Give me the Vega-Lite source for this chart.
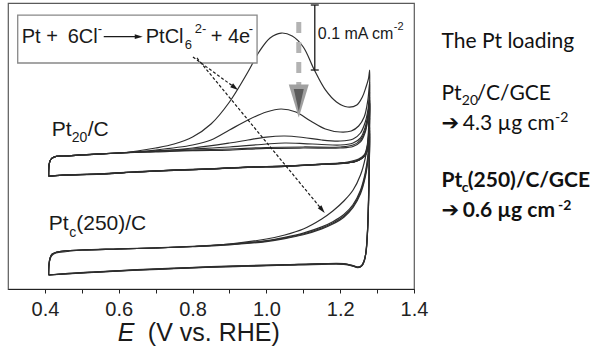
{
  "$schema": "https://vega.github.io/schema/vega-lite/v6.json",
  "width": 406,
  "height": 286,
  "autosize": {"type": "none"},
  "padding": {"left": 8, "top": 3, "right": 176, "bottom": 63},
  "background": "white",
  "config": {"view": {"stroke": "#5a5a5a", "strokeWidth": 1.2}},
  "datasets": {
    "cv": [
      {"s":"A1","i":0,"E":0.41,"j":0.1738},{"s":"A1","i":1,"E":0.411,"j":0.1892},{"s":"A1","i":2,"E":0.415,"j":0.1985},{"s":"A1","i":3,"E":0.425,"j":0.2031},{"s":"A1","i":4,"E":0.45,"j":0.2046},{"s":"A1","i":5,"E":0.5,"j":0.2062},{"s":"A1","i":6,"E":0.6,"j":0.2092},{"s":"A1","i":7,"E":0.65,"j":0.2123},{"s":"A1","i":8,"E":0.7,"j":0.2169},{"s":"A1","i":9,"E":0.75,"j":0.2231},{"s":"A1","i":10,"E":0.8,"j":0.2338},{"s":"A1","i":11,"E":0.85,"j":0.2538},{"s":"A1","i":12,"E":0.9,"j":0.2877},{"s":"A1","i":13,"E":0.95,"j":0.3338},{"s":"A1","i":14,"E":0.98,"j":0.3646},{"s":"A1","i":15,"E":1.01,"j":0.3862},{"s":"A1","i":16,"E":1.04,"j":0.3938},{"s":"A1","i":17,"E":1.07,"j":0.3892},{"s":"A1","i":18,"E":1.1,"j":0.3723},{"s":"A1","i":19,"E":1.13,"j":0.3369},{"s":"A1","i":20,"E":1.16,"j":0.3062},{"s":"A1","i":21,"E":1.19,"j":0.2877},{"s":"A1","i":22,"E":1.22,"j":0.28},{"s":"A1","i":23,"E":1.245,"j":0.2831},{"s":"A1","i":24,"E":1.26,"j":0.2954},{"s":"A1","i":25,"E":1.27,"j":0.3108},{"s":"A1","i":26,"E":1.277,"j":0.3246},{"s":"A1","i":27,"E":1.28,"j":0.3369},{"s":"A1","i":28,"E":1.279,"j":0.2908},{"s":"A1","i":29,"E":1.277,"j":0.2477},{"s":"A1","i":30,"E":1.273,"j":0.22},{"s":"A1","i":31,"E":1.265,"j":0.2062},{"s":"A1","i":32,"E":1.25,"j":0.2},{"s":"A1","i":33,"E":1.22,"j":0.1954},{"s":"A1","i":34,"E":1.15,"j":0.1923},{"s":"A1","i":35,"E":1.05,"j":0.1892},{"s":"A1","i":36,"E":0.95,"j":0.1877},{"s":"A1","i":37,"E":0.85,"j":0.1846},{"s":"A1","i":38,"E":0.75,"j":0.1831},{"s":"A1","i":39,"E":0.65,"j":0.18},{"s":"A1","i":40,"E":0.55,"j":0.1769},{"s":"A1","i":41,"E":0.45,"j":0.1754},{"s":"A1","i":42,"E":0.415,"j":0.1738},{"s":"A1","i":43,"E":0.41,"j":0.1738},

      {"s":"A2","i":0,"E":0.41,"j":0.1738},{"s":"A2","i":1,"E":0.411,"j":0.1892},{"s":"A2","i":2,"E":0.415,"j":0.1985},{"s":"A2","i":3,"E":0.425,"j":0.2031},{"s":"A2","i":4,"E":0.45,"j":0.2046},{"s":"A2","i":5,"E":0.5,"j":0.2062},{"s":"A2","i":6,"E":0.6,"j":0.2092},{"s":"A2","i":7,"E":0.7,"j":0.2138},{"s":"A2","i":8,"E":0.8,"j":0.2215},{"s":"A2","i":9,"E":0.85,"j":0.2292},{"s":"A2","i":10,"E":0.9,"j":0.2446},{"s":"A2","i":11,"E":0.95,"j":0.26},{"s":"A2","i":12,"E":1.0,"j":0.2723},{"s":"A2","i":13,"E":1.04,"j":0.2769},{"s":"A2","i":14,"E":1.08,"j":0.2723},{"s":"A2","i":15,"E":1.12,"j":0.2585},{"s":"A2","i":16,"E":1.16,"j":0.2462},{"s":"A2","i":17,"E":1.2,"j":0.2415},{"s":"A2","i":18,"E":1.23,"j":0.2431},{"s":"A2","i":19,"E":1.25,"j":0.2508},{"s":"A2","i":20,"E":1.265,"j":0.2646},{"s":"A2","i":21,"E":1.275,"j":0.2908},{"s":"A2","i":22,"E":1.28,"j":0.3185},{"s":"A2","i":23,"E":1.279,"j":0.2754},{"s":"A2","i":24,"E":1.277,"j":0.24},{"s":"A2","i":25,"E":1.273,"j":0.2169},{"s":"A2","i":26,"E":1.265,"j":0.2046},{"s":"A2","i":27,"E":1.25,"j":0.1985},{"s":"A2","i":28,"E":1.22,"j":0.1938},{"s":"A2","i":29,"E":1.15,"j":0.1915},{"s":"A2","i":30,"E":1.05,"j":0.1885},{"s":"A2","i":31,"E":0.95,"j":0.187},{"s":"A2","i":32,"E":0.85,"j":0.1846},{"s":"A2","i":33,"E":0.75,"j":0.1825},{"s":"A2","i":34,"E":0.65,"j":0.18},{"s":"A2","i":35,"E":0.55,"j":0.1769},{"s":"A2","i":36,"E":0.45,"j":0.175},{"s":"A2","i":37,"E":0.415,"j":0.1738},{"s":"A2","i":38,"E":0.41,"j":0.1738},

      {"s":"A3","i":0,"E":0.41,"j":0.1738},{"s":"A3","i":1,"E":0.411,"j":0.1892},{"s":"A3","i":2,"E":0.415,"j":0.1985},{"s":"A3","i":3,"E":0.425,"j":0.2031},{"s":"A3","i":4,"E":0.45,"j":0.2046},{"s":"A3","i":5,"E":0.5,"j":0.2062},{"s":"A3","i":6,"E":0.6,"j":0.2092},{"s":"A3","i":7,"E":0.7,"j":0.2123},{"s":"A3","i":8,"E":0.8,"j":0.2169},{"s":"A3","i":9,"E":0.9,"j":0.2246},{"s":"A3","i":10,"E":0.95,"j":0.2292},{"s":"A3","i":11,"E":1.0,"j":0.2338},{"s":"A3","i":12,"E":1.05,"j":0.2354},{"s":"A3","i":13,"E":1.1,"j":0.2331},{"s":"A3","i":14,"E":1.15,"j":0.2292},{"s":"A3","i":15,"E":1.2,"j":0.2277},{"s":"A3","i":16,"E":1.235,"j":0.2308},{"s":"A3","i":17,"E":1.255,"j":0.24},{"s":"A3","i":18,"E":1.268,"j":0.2569},{"s":"A3","i":19,"E":1.276,"j":0.2785},{"s":"A3","i":20,"E":1.28,"j":0.3031},{"s":"A3","i":21,"E":1.279,"j":0.2631},{"s":"A3","i":22,"E":1.277,"j":0.2323},{"s":"A3","i":23,"E":1.272,"j":0.2123},{"s":"A3","i":24,"E":1.262,"j":0.2031},{"s":"A3","i":25,"E":1.245,"j":0.1969},{"s":"A3","i":26,"E":1.22,"j":0.1938},{"s":"A3","i":27,"E":1.15,"j":0.192},{"s":"A3","i":28,"E":1.05,"j":0.1892},{"s":"A3","i":29,"E":0.95,"j":0.1877},{"s":"A3","i":30,"E":0.85,"j":0.185},{"s":"A3","i":31,"E":0.75,"j":0.1831},{"s":"A3","i":32,"E":0.65,"j":0.1805},{"s":"A3","i":33,"E":0.55,"j":0.1772},{"s":"A3","i":34,"E":0.45,"j":0.1754},{"s":"A3","i":35,"E":0.415,"j":0.1738},{"s":"A3","i":36,"E":0.41,"j":0.1738},

      {"s":"A4","i":0,"E":0.41,"j":0.1738},{"s":"A4","i":1,"E":0.411,"j":0.1892},{"s":"A4","i":2,"E":0.415,"j":0.1985},{"s":"A4","i":3,"E":0.425,"j":0.2031},{"s":"A4","i":4,"E":0.45,"j":0.2046},{"s":"A4","i":5,"E":0.5,"j":0.2062},{"s":"A4","i":6,"E":0.6,"j":0.2092},{"s":"A4","i":7,"E":0.7,"j":0.2123},{"s":"A4","i":8,"E":0.8,"j":0.2154},{"s":"A4","i":9,"E":0.9,"j":0.2185},{"s":"A4","i":10,"E":1.0,"j":0.2231},{"s":"A4","i":11,"E":1.05,"j":0.2246},{"s":"A4","i":12,"E":1.1,"j":0.2238},{"s":"A4","i":13,"E":1.15,"j":0.2223},{"s":"A4","i":14,"E":1.2,"j":0.2215},{"s":"A4","i":15,"E":1.235,"j":0.2246},{"s":"A4","i":16,"E":1.255,"j":0.2323},{"s":"A4","i":17,"E":1.268,"j":0.2492},{"s":"A4","i":18,"E":1.276,"j":0.2723},{"s":"A4","i":19,"E":1.28,"j":0.2954},{"s":"A4","i":20,"E":1.279,"j":0.255},{"s":"A4","i":21,"E":1.277,"j":0.226},{"s":"A4","i":22,"E":1.271,"j":0.21},{"s":"A4","i":23,"E":1.26,"j":0.202},{"s":"A4","i":24,"E":1.24,"j":0.1962},{"s":"A4","i":25,"E":1.2,"j":0.1935},{"s":"A4","i":26,"E":1.15,"j":0.1918},{"s":"A4","i":27,"E":1.05,"j":0.189},{"s":"A4","i":28,"E":0.95,"j":0.1874},{"s":"A4","i":29,"E":0.85,"j":0.1848},{"s":"A4","i":30,"E":0.75,"j":0.1828},{"s":"A4","i":31,"E":0.65,"j":0.1802},{"s":"A4","i":32,"E":0.55,"j":0.177},{"s":"A4","i":33,"E":0.45,"j":0.1752},{"s":"A4","i":34,"E":0.415,"j":0.1738},{"s":"A4","i":35,"E":0.41,"j":0.1738},

      {"s":"A5","i":0,"E":0.41,"j":0.1738},{"s":"A5","i":1,"E":0.411,"j":0.1892},{"s":"A5","i":2,"E":0.415,"j":0.1985},{"s":"A5","i":3,"E":0.425,"j":0.2031},{"s":"A5","i":4,"E":0.45,"j":0.2046},{"s":"A5","i":5,"E":0.5,"j":0.2062},{"s":"A5","i":6,"E":0.6,"j":0.2092},{"s":"A5","i":7,"E":0.7,"j":0.2115},{"s":"A5","i":8,"E":0.8,"j":0.2138},{"s":"A5","i":9,"E":0.9,"j":0.2154},{"s":"A5","i":10,"E":1.0,"j":0.2177},{"s":"A5","i":11,"E":1.1,"j":0.2185},{"s":"A5","i":12,"E":1.2,"j":0.2185},{"s":"A5","i":13,"E":1.235,"j":0.2215},{"s":"A5","i":14,"E":1.255,"j":0.2292},{"s":"A5","i":15,"E":1.268,"j":0.2446},{"s":"A5","i":16,"E":1.276,"j":0.2677},{"s":"A5","i":17,"E":1.28,"j":0.2908},{"s":"A5","i":18,"E":1.279,"j":0.25},{"s":"A5","i":19,"E":1.276,"j":0.222},{"s":"A5","i":20,"E":1.27,"j":0.208},{"s":"A5","i":21,"E":1.258,"j":0.201},{"s":"A5","i":22,"E":1.24,"j":0.196},{"s":"A5","i":23,"E":1.2,"j":0.1935},{"s":"A5","i":24,"E":1.15,"j":0.1918},{"s":"A5","i":25,"E":1.05,"j":0.189},{"s":"A5","i":26,"E":0.95,"j":0.1874},{"s":"A5","i":27,"E":0.85,"j":0.1848},{"s":"A5","i":28,"E":0.75,"j":0.1828},{"s":"A5","i":29,"E":0.65,"j":0.1802},{"s":"A5","i":30,"E":0.55,"j":0.177},{"s":"A5","i":31,"E":0.45,"j":0.1752},{"s":"A5","i":32,"E":0.415,"j":0.1738},{"s":"A5","i":33,"E":0.41,"j":0.1738},

      {"s":"A6","i":0,"E":0.41,"j":0.1738},{"s":"A6","i":1,"E":0.411,"j":0.1892},{"s":"A6","i":2,"E":0.415,"j":0.1985},{"s":"A6","i":3,"E":0.425,"j":0.2031},{"s":"A6","i":4,"E":0.45,"j":0.2046},{"s":"A6","i":5,"E":0.5,"j":0.2062},{"s":"A6","i":6,"E":0.6,"j":0.2092},{"s":"A6","i":7,"E":0.7,"j":0.211},{"s":"A6","i":8,"E":0.8,"j":0.213},{"s":"A6","i":9,"E":0.9,"j":0.2138},{"s":"A6","i":10,"E":1.0,"j":0.2162},{"s":"A6","i":11,"E":1.1,"j":0.2169},{"s":"A6","i":12,"E":1.2,"j":0.2169},{"s":"A6","i":13,"E":1.235,"j":0.2192},{"s":"A6","i":14,"E":1.255,"j":0.2262},{"s":"A6","i":15,"E":1.268,"j":0.2415},{"s":"A6","i":16,"E":1.276,"j":0.2646},{"s":"A6","i":17,"E":1.28,"j":0.2862},{"s":"A6","i":18,"E":1.279,"j":0.245},{"s":"A6","i":19,"E":1.276,"j":0.22},{"s":"A6","i":20,"E":1.27,"j":0.207},{"s":"A6","i":21,"E":1.258,"j":0.2005},{"s":"A6","i":22,"E":1.24,"j":0.1958},{"s":"A6","i":23,"E":1.2,"j":0.1932},{"s":"A6","i":24,"E":1.15,"j":0.1916},{"s":"A6","i":25,"E":1.05,"j":0.1888},{"s":"A6","i":26,"E":0.95,"j":0.1872},{"s":"A6","i":27,"E":0.85,"j":0.1846},{"s":"A6","i":28,"E":0.75,"j":0.1826},{"s":"A6","i":29,"E":0.65,"j":0.18},{"s":"A6","i":30,"E":0.55,"j":0.1768},{"s":"A6","i":31,"E":0.45,"j":0.1751},{"s":"A6","i":32,"E":0.415,"j":0.1738},{"s":"A6","i":33,"E":0.41,"j":0.1738},

      {"s":"B1","i":0,"E":0.41,"j":0.0215},{"s":"B1","i":1,"E":0.412,"j":0.0415},{"s":"B1","i":2,"E":0.418,"j":0.0508},{"s":"B1","i":3,"E":0.43,"j":0.0554},{"s":"B1","i":4,"E":0.46,"j":0.0577},{"s":"B1","i":5,"E":0.5,"j":0.06},{"s":"B1","i":6,"E":0.6,"j":0.0615},{"s":"B1","i":7,"E":0.7,"j":0.0631},{"s":"B1","i":8,"E":0.8,"j":0.0654},{"s":"B1","i":9,"E":0.9,"j":0.0692},{"s":"B1","i":10,"E":1.0,"j":0.0769},{"s":"B1","i":11,"E":1.05,"j":0.0831},{"s":"B1","i":12,"E":1.1,"j":0.0923},{"s":"B1","i":13,"E":1.15,"j":0.1077},{"s":"B1","i":14,"E":1.18,"j":0.12},{"s":"B1","i":15,"E":1.21,"j":0.1354},{"s":"B1","i":16,"E":1.235,"j":0.1523},{"s":"B1","i":17,"E":1.255,"j":0.1754},{"s":"B1","i":18,"E":1.268,"j":0.2015},{"s":"B1","i":19,"E":1.276,"j":0.2292},{"s":"B1","i":20,"E":1.28,"j":0.2631},{"s":"B1","i":21,"E":1.279,"j":0.21},{"s":"B1","i":22,"E":1.277,"j":0.145},{"s":"B1","i":23,"E":1.274,"j":0.09},{"s":"B1","i":24,"E":1.27,"j":0.058},{"s":"B1","i":25,"E":1.266,"j":0.044},{"s":"B1","i":26,"E":1.26,"j":0.0365},{"s":"B1","i":27,"E":1.25,"j":0.034},{"s":"B1","i":28,"E":1.235,"j":0.036},{"s":"B1","i":29,"E":1.21,"j":0.039},{"s":"B1","i":30,"E":1.15,"j":0.039},{"s":"B1","i":31,"E":1.05,"j":0.0375},{"s":"B1","i":32,"E":0.95,"j":0.036},{"s":"B1","i":33,"E":0.85,"j":0.0345},{"s":"B1","i":34,"E":0.75,"j":0.032},{"s":"B1","i":35,"E":0.65,"j":0.0297},{"s":"B1","i":36,"E":0.55,"j":0.0267},{"s":"B1","i":37,"E":0.45,"j":0.0235},{"s":"B1","i":38,"E":0.41,"j":0.0215},

      {"s":"B2","i":0,"E":0.41,"j":0.0215},{"s":"B2","i":1,"E":0.411,"j":0.0369},{"s":"B2","i":2,"E":0.414,"j":0.0477},{"s":"B2","i":3,"E":0.42,"j":0.0538},{"s":"B2","i":4,"E":0.44,"j":0.0577},{"s":"B2","i":5,"E":0.5,"j":0.06},{"s":"B2","i":6,"E":0.6,"j":0.0615},{"s":"B2","i":7,"E":0.7,"j":0.0631},{"s":"B2","i":8,"E":0.8,"j":0.0654},{"s":"B2","i":9,"E":0.9,"j":0.0685},{"s":"B2","i":10,"E":1.0,"j":0.0738},{"s":"B2","i":11,"E":1.05,"j":0.0785},{"s":"B2","i":12,"E":1.1,"j":0.0846},{"s":"B2","i":13,"E":1.15,"j":0.0938},{"s":"B2","i":14,"E":1.18,"j":0.1015},{"s":"B2","i":15,"E":1.21,"j":0.1123},{"s":"B2","i":16,"E":1.235,"j":0.1277},{"s":"B2","i":17,"E":1.255,"j":0.1492},{"s":"B2","i":18,"E":1.268,"j":0.1754},{"s":"B2","i":19,"E":1.276,"j":0.2062},{"s":"B2","i":20,"E":1.28,"j":0.2446},{"s":"B2","i":21,"E":1.279,"j":0.1985},{"s":"B2","i":22,"E":1.277,"j":0.1369},{"s":"B2","i":23,"E":1.274,"j":0.0877},{"s":"B2","i":24,"E":1.27,"j":0.0569},{"s":"B2","i":25,"E":1.265,"j":0.0431},{"s":"B2","i":26,"E":1.258,"j":0.0354},{"s":"B2","i":27,"E":1.248,"j":0.0331},{"s":"B2","i":28,"E":1.235,"j":0.0354},{"s":"B2","i":29,"E":1.21,"j":0.0385},{"s":"B2","i":30,"E":1.15,"j":0.0385},{"s":"B2","i":31,"E":1.05,"j":0.0369},{"s":"B2","i":32,"E":0.95,"j":0.0354},{"s":"B2","i":33,"E":0.85,"j":0.0338},{"s":"B2","i":34,"E":0.75,"j":0.0315},{"s":"B2","i":35,"E":0.65,"j":0.0292},{"s":"B2","i":36,"E":0.55,"j":0.0262},{"s":"B2","i":37,"E":0.45,"j":0.0231},{"s":"B2","i":38,"E":0.41,"j":0.0215},

      {"s":"B3","i":0,"E":0.41,"j":0.0215},{"s":"B3","i":1,"E":0.411,"j":0.0369},{"s":"B3","i":2,"E":0.414,"j":0.0477},{"s":"B3","i":3,"E":0.42,"j":0.0538},{"s":"B3","i":4,"E":0.44,"j":0.0577},{"s":"B3","i":5,"E":0.5,"j":0.06},{"s":"B3","i":6,"E":0.6,"j":0.0615},{"s":"B3","i":7,"E":0.7,"j":0.0631},{"s":"B3","i":8,"E":0.8,"j":0.0652},{"s":"B3","i":9,"E":0.9,"j":0.068},{"s":"B3","i":10,"E":1.0,"j":0.073},{"s":"B3","i":11,"E":1.05,"j":0.0775},{"s":"B3","i":12,"E":1.1,"j":0.0835},{"s":"B3","i":13,"E":1.15,"j":0.0925},{"s":"B3","i":14,"E":1.18,"j":0.1},{"s":"B3","i":15,"E":1.21,"j":0.1105},{"s":"B3","i":16,"E":1.235,"j":0.1255},{"s":"B3","i":17,"E":1.255,"j":0.1465},{"s":"B3","i":18,"E":1.268,"j":0.172},{"s":"B3","i":19,"E":1.276,"j":0.202},{"s":"B3","i":20,"E":1.28,"j":0.24},{"s":"B3","i":21,"E":1.279,"j":0.195},{"s":"B3","i":22,"E":1.277,"j":0.134},{"s":"B3","i":23,"E":1.274,"j":0.086},{"s":"B3","i":24,"E":1.27,"j":0.0562},{"s":"B3","i":25,"E":1.264,"j":0.0425},{"s":"B3","i":26,"E":1.257,"j":0.035},{"s":"B3","i":27,"E":1.247,"j":0.0328},{"s":"B3","i":28,"E":1.235,"j":0.035},{"s":"B3","i":29,"E":1.21,"j":0.038},{"s":"B3","i":30,"E":1.15,"j":0.038},{"s":"B3","i":31,"E":1.05,"j":0.0365},{"s":"B3","i":32,"E":0.95,"j":0.035},{"s":"B3","i":33,"E":0.85,"j":0.0335},{"s":"B3","i":34,"E":0.75,"j":0.0312},{"s":"B3","i":35,"E":0.65,"j":0.029},{"s":"B3","i":36,"E":0.55,"j":0.026},{"s":"B3","i":37,"E":0.45,"j":0.023},{"s":"B3","i":38,"E":0.41,"j":0.0215},

      {"s":"B4","i":0,"E":0.41,"j":0.0215},{"s":"B4","i":1,"E":0.411,"j":0.0369},{"s":"B4","i":2,"E":0.414,"j":0.0477},{"s":"B4","i":3,"E":0.42,"j":0.0538},{"s":"B4","i":4,"E":0.44,"j":0.0577},{"s":"B4","i":5,"E":0.5,"j":0.06},{"s":"B4","i":6,"E":0.6,"j":0.0617},{"s":"B4","i":7,"E":0.7,"j":0.0633},{"s":"B4","i":8,"E":0.8,"j":0.0657},{"s":"B4","i":9,"E":0.9,"j":0.069},{"s":"B4","i":10,"E":1.0,"j":0.0745},{"s":"B4","i":11,"E":1.05,"j":0.0795},{"s":"B4","i":12,"E":1.1,"j":0.086},{"s":"B4","i":13,"E":1.15,"j":0.0955},{"s":"B4","i":14,"E":1.18,"j":0.1035},{"s":"B4","i":15,"E":1.21,"j":0.1145},{"s":"B4","i":16,"E":1.235,"j":0.13},{"s":"B4","i":17,"E":1.255,"j":0.152},{"s":"B4","i":18,"E":1.268,"j":0.179},{"s":"B4","i":19,"E":1.276,"j":0.21},{"s":"B4","i":20,"E":1.28,"j":0.249},{"s":"B4","i":21,"E":1.279,"j":0.2},{"s":"B4","i":22,"E":1.277,"j":0.138},{"s":"B4","i":23,"E":1.274,"j":0.0885},{"s":"B4","i":24,"E":1.27,"j":0.0575},{"s":"B4","i":25,"E":1.265,"j":0.0435},{"s":"B4","i":26,"E":1.258,"j":0.0358},{"s":"B4","i":27,"E":1.248,"j":0.0335},{"s":"B4","i":28,"E":1.235,"j":0.0357},{"s":"B4","i":29,"E":1.21,"j":0.0388},{"s":"B4","i":30,"E":1.15,"j":0.0388},{"s":"B4","i":31,"E":1.05,"j":0.0372},{"s":"B4","i":32,"E":0.95,"j":0.0357},{"s":"B4","i":33,"E":0.85,"j":0.0341},{"s":"B4","i":34,"E":0.75,"j":0.0318},{"s":"B4","i":35,"E":0.65,"j":0.0295},{"s":"B4","i":36,"E":0.55,"j":0.0265},{"s":"B4","i":37,"E":0.45,"j":0.0233},{"s":"B4","i":38,"E":0.41,"j":0.0215}
    ],
    "box": [{"E":0.3263,"E2":0.9748,"j":0.4215,"j2":0.3477}],
    "eqMain": [{"E":0.3371,"j":0.378,"t":"Pt +"},{"E":0.4618,"j":0.378,"t":"6Cl"},{"E":0.6732,"j":0.378,"t":"PtCl"},{"E":0.8493,"j":0.378,"t":"+ 4e"}],
    "eqSmall": [{"E":0.5435,"j":0.3938,"t":"-"},{"E":0.7788,"j":0.37,"t":"6"},{"E":0.8059,"j":0.3938,"t":"2-"},{"E":0.9526,"j":0.3938,"t":"-"}],
    "eqArrow": [{"E":0.5594,"E2":0.6461,"j":0.3882,"j2":0.3882}],
    "eqHead": [{"E":0.6542,"j":0.3882}],
    "bar": [{"E":1.1312,"E2":1.1312,"j":0.4369,"j2":0.3369},{"E":1.1204,"E2":1.142,"j":0.4369,"j2":0.4369},{"E":1.1204,"E2":1.142,"j":0.3369,"j2":0.3369}],
    "barTxt": [{"E":1.1394,"j":0.3846,"t":"0.1 mA cm"}],
    "barSup": [{"E":1.3454,"j":0.3985,"t":"-2"}],
    "grayDash": [{"E":1.0878,"E2":1.0878,"j":0.4108,"j2":0.3108}],
    "grayTri": [{"E":1.0878,"j":0.2892}],
    "dashArrows": [{"E":0.8011,"E2":0.9146,"j":0.3569,"j2":0.3098},{"E":0.8119,"E2":1.1512,"j":0.3554,"j2":0.1217}],
    "head1": [{"E":0.9146,"j":0.3098}],
    "head2": [{"E":1.1512,"j":0.1217}],
    "lab": [{"E":0.4184,"j":0.2354,"t":"Pt"},{"E":0.516,"j":0.2354,"t":"/C"},{"E":0.4103,"j":0.0908,"t":"Pt"},{"E":0.4848,"j":0.0908,"t":"(250)/C"}],
    "labSub": [{"E":0.4726,"j":0.2262,"t":"20"},{"E":0.4659,"j":0.08,"t":"c"}],
    "rt": [{"E":1.4745,"j":0.3703,"t":"The Pt loading"},{"E":1.4745,"j":0.2908,"t":"Pt"},{"E":1.5701,"j":0.2908,"t":"/C/GCE"},{"E":1.5322,"j":0.2446,"t":"4.3 µg cm"}],
    "rtArrow": [{"E":1.4745,"j":0.2446,"t":"➔"}],
    "rtSmall": [{"E":1.5296,"j":0.2831,"t":"20"},{"E":1.782,"j":0.2569,"t":"-2"}],
    "rtBold": [{"E":1.4745,"j":0.1569,"t":"Pt"},{"E":1.5458,"j":0.1569,"t":"(250)/C/GCE"},{"E":1.5322,"j":0.1108,"t":"0.6 µg cm"}],
    "rtBoldArrow": [{"E":1.4745,"j":0.1108,"t":"➔"}],
    "rtBoldSmall": [{"E":1.5295,"j":0.1492,"t":"c"},{"E":1.79,"j":0.1215,"t":"-2"}],
    "titleE": [{"E":0.5976,"j":-0.08,"t":"E"}],
    "titleRest": [{"E":0.6788,"j":-0.08,"t":"(V vs. RHE)"}]
  },
  "encoding": {
    "x": {"field": "E", "type": "quantitative",
      "scale": {"domain": [0.3, 1.4], "nice": false, "zero": false},
      "axis": {"values": [0.4,0.5,0.6,0.7,0.8,0.9,1.0,1.1,1.2,1.3,1.4],
        "labelExpr": "(round(datum.value*10) % 2 == 0) ? format(datum.value, '.1f') : ''",
        "title": null, "grid": false, "domainColor": "#222", "domainWidth": 1.2,
        "tickColor": "#222", "tickSize": 4, "tickWidth": 1,
        "labelFont": "Liberation Sans", "labelFontSize": 20, "labelColor": "#222",
        "labelPadding": 6, "labelOverlap": false, "labelFlush": false}},
    "y": {"field": "j", "type": "quantitative",
      "scale": {"domain": [0, 0.44], "nice": false, "zero": false},
      "axis": null}
  },
  "layer": [
    {"data": {"name": "cv"},
     "mark": {"type": "line", "interpolate": "catmull-rom", "strokeWidth": 1.2, "color": "#2e2e2e"},
     "encoding": {"detail": {"field": "s"}, "order": {"field": "i", "type": "quantitative"}}},
    {"data": {"name": "box"},
     "mark": {"type": "rect", "fill": "white", "stroke": "#888", "strokeWidth": 1.3},
     "encoding": {"x2": {"field": "E2"}, "y2": {"field": "j2"}}},
    {"data": {"name": "eqMain"},
     "mark": {"type": "text", "align": "left", "baseline": "alphabetic", "font": "Liberation Sans", "fontSize": 20, "color": "#1a1a1a"},
     "encoding": {"text": {"field": "t"}}},
    {"data": {"name": "eqSmall"},
     "mark": {"type": "text", "align": "left", "baseline": "alphabetic", "font": "Liberation Sans", "fontSize": 13, "color": "#1a1a1a"},
     "encoding": {"text": {"field": "t"}}},
    {"data": {"name": "eqArrow"},
     "mark": {"type": "rule", "strokeWidth": 1.2, "color": "#1a1a1a"},
     "encoding": {"x2": {"field": "E2"}, "y2": {"field": "j2"}}},
    {"data": {"name": "eqHead"},
     "mark": {"type": "point", "shape": "M-1,-0.6L1,0L-1,0.6Z", "size": 64, "filled": true, "opacity": 1, "color": "#1a1a1a", "angle": 0}},
    {"data": {"name": "bar"},
     "mark": {"type": "rule", "strokeWidth": 1.3, "color": "#1a1a1a"},
     "encoding": {"x2": {"field": "E2"}, "y2": {"field": "j2"}}},
    {"data": {"name": "barTxt"},
     "mark": {"type": "text", "align": "left", "baseline": "alphabetic", "font": "Liberation Sans", "fontSize": 16, "color": "#1a1a1a"},
     "encoding": {"text": {"field": "t"}}},
    {"data": {"name": "barSup"},
     "mark": {"type": "text", "align": "left", "baseline": "alphabetic", "font": "Liberation Sans", "fontSize": 11, "color": "#1a1a1a"},
     "encoding": {"text": {"field": "t"}}},
    {"data": {"name": "grayDash"},
     "mark": {"type": "rule", "strokeWidth": 5, "color": "#b3b3b3", "strokeDash": [11, 9]},
     "encoding": {"x2": {"field": "E2"}, "y2": {"field": "j2"}}},
    {"data": {"name": "grayTri"},
     "mark": {"type": "point", "shape": "M-1,-1.65L1,-1.65L0,1.65Z", "size": 400, "filled": true, "opacity": 1, "color": "#a0a0a0"}},
    {"data": {"name": "grayTri"},
     "mark": {"type": "point", "shape": "M-0.5,-1.2L0.5,-1.2L0,1.05Z", "size": 400, "filled": true, "opacity": 1, "color": "#5c5c5c"}},
    {"data": {"name": "dashArrows"},
     "mark": {"type": "rule", "strokeWidth": 1.2, "color": "#1a1a1a", "strokeDash": [3, 2]},
     "encoding": {"x2": {"field": "E2"}, "y2": {"field": "j2"}}},
    {"data": {"name": "head1"},
     "mark": {"type": "point", "shape": "M-1,-0.6L1,0L-1,0.6Z", "size": 64, "filled": true, "opacity": 1, "color": "#1a1a1a", "angle": 37}},
    {"data": {"name": "head2"},
     "mark": {"type": "point", "shape": "M-1,-0.6L1,0L-1,0.6Z", "size": 64, "filled": true, "opacity": 1, "color": "#1a1a1a", "angle": 50}},
    {"data": {"name": "lab"},
     "mark": {"type": "text", "align": "left", "baseline": "alphabetic", "font": "Liberation Sans", "fontSize": 21, "color": "#1a1a1a"},
     "encoding": {"text": {"field": "t"}}},
    {"data": {"name": "labSub"},
     "mark": {"type": "text", "align": "left", "baseline": "alphabetic", "font": "Liberation Sans", "fontSize": 14, "color": "#1a1a1a"},
     "encoding": {"text": {"field": "t"}}},
    {"data": {"name": "rt"},
     "mark": {"type": "text", "align": "left", "baseline": "alphabetic", "font": "Lato", "fontSize": 21, "color": "#111"},
     "encoding": {"text": {"field": "t"}}},
    {"data": {"name": "rtArrow"},
     "mark": {"type": "text", "align": "left", "baseline": "alphabetic", "font": "DejaVu Sans", "fontSize": 21, "color": "#111"},
     "encoding": {"text": {"field": "t"}}},
    {"data": {"name": "rtSmall"},
     "mark": {"type": "text", "align": "left", "baseline": "alphabetic", "font": "Lato", "fontSize": 14, "color": "#111"},
     "encoding": {"text": {"field": "t"}}},
    {"data": {"name": "rtBold"},
     "mark": {"type": "text", "align": "left", "baseline": "alphabetic", "font": "Lato", "fontSize": 21, "fontWeight": "bold", "color": "#111"},
     "encoding": {"text": {"field": "t"}}},
    {"data": {"name": "rtBoldArrow"},
     "mark": {"type": "text", "align": "left", "baseline": "alphabetic", "font": "DejaVu Sans", "fontSize": 21, "fontWeight": "bold", "color": "#111"},
     "encoding": {"text": {"field": "t"}}},
    {"data": {"name": "rtBoldSmall"},
     "mark": {"type": "text", "align": "left", "baseline": "alphabetic", "font": "Lato", "fontSize": 14, "fontWeight": "bold", "color": "#111"},
     "encoding": {"text": {"field": "t"}}},
    {"data": {"name": "titleE"},
     "mark": {"type": "text", "align": "left", "baseline": "alphabetic", "font": "Liberation Sans", "fontSize": 25, "fontStyle": "italic", "color": "#1a1a1a"},
     "encoding": {"text": {"field": "t"}}},
    {"data": {"name": "titleRest"},
     "mark": {"type": "text", "align": "left", "baseline": "alphabetic", "font": "Liberation Sans", "fontSize": 25, "color": "#1a1a1a"},
     "encoding": {"text": {"field": "t"}}}
  ]
}
